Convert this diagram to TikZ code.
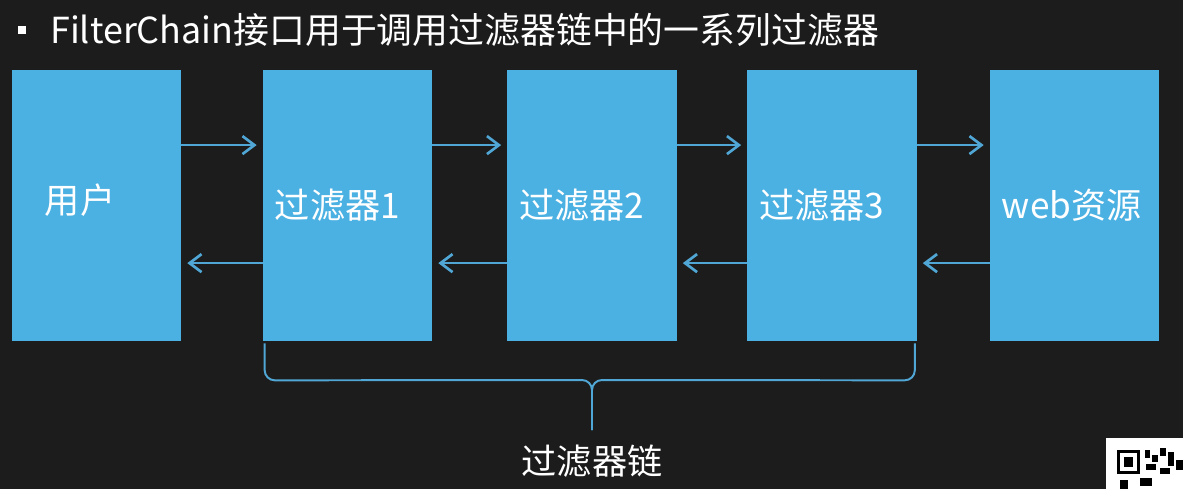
\documentclass[tikz,border=0pt]{standalone}
\usepackage{fontspec}
\setmainfont{Noto Sans CJK SC}
\usetikzlibrary{arrows.meta,positioning}
\definecolor{board}{RGB}{28,28,28}
\definecolor{boxblue}{RGB}{75,176,226}
\definecolor{flowblue}{RGB}{80,166,212}

\tikzset{
  box/.style={fill=boxblue, minimum width=4.225cm, minimum height=6.775cm,
    text width=3.625cm, align=left, inner sep=0pt, text=white,
    font=\fontsize{25}{30}\selectfont},
  flow/.style={draw=flowblue, line width=1.9pt, -{Straight Barb[length=3mm,width=4.5mm]}},
  brace/.style={draw=flowblue, line width=1.4pt, rounded corners=0.25cm},
}

\begin{document}
\begin{tikzpicture}[x=0.025cm,y=-0.025cm]
   \fill[board] (0,0) rectangle (1183,489);
   \useasboundingbox (0,0) rectangle (1183,489);

   % title
   \fill[white] (18,26) rectangle (26,34);
   \node[anchor=west, inner sep=0pt, text=white, font=\fontsize{25.5}{30}\selectfont] (title) at (50,30) {FilterChain接口用于调用过滤器链中的一系列过滤器};

   % boxes
   \node[box] (user) at (96.5,205.5) {\hspace*{0.525cm}\raisebox{0.35cm}{用户}};
   \node[box] (f1) at (347.5,205.5) {过滤器1};
   \node[box] (f2) at (592,205.5) {过滤器2};
   \node[box] (f3) at (832,205.5) {过滤器3};
   \node[box] (web) at (1074.5,205.5) {web资源};

   % request / response
   \foreach \a/\b in {user/f1, f1/f2, f2/f3, f3/web} {
      \draw[flow, shorten >=0.15cm] ([yshift=1.51cm]\a.east) -- ([yshift=1.51cm]\b.west);
      \draw[flow, shorten >=0.15cm] ([yshift=-1.44cm]\b.west) -- ([yshift=-1.44cm]\a.east);
   }

   % brace
   \coordinate (tip) at (592,430);
   \draw[brace] ([xshift=0.05cm,yshift=-0.05cm]f1.south west) -- ++(0,37) -- (592,380) -- (tip);
   \draw[brace] ([xshift=-0.05cm,yshift=-0.05cm]f3.south east) -- ++(0,37) -- (592,380) -- (tip);
   \node[text=white, font=\fontsize{25}{30}\selectfont] (chain) at (592,461) {过滤器链};

   % qr corner
   \fill[white] (1106,438) rectangle (1183,489);
   \fill[black] (1117,450) rectangle (1140,474);
   \fill[white] (1120,453) rectangle (1137,471);
   \fill[black] (1124,457) rectangle (1133,467);
   \fill[black] (1145,450) rectangle (1150,458);
   \fill[black] (1152,455) rectangle (1158,462);
   \fill[black] (1160,448) rectangle (1166,456);
   \fill[black] (1168,452) rectangle (1174,466);
   \fill[black] (1146,464) rectangle (1156,470);
   \fill[black] (1160,468) rectangle (1170,474);
   \fill[black] (1176,460) rectangle (1183,470);
   \fill[black] (1120,480) rectangle (1128,489);
   \fill[black] (1140,478) rectangle (1152,486);
\end{tikzpicture}
\end{document}
